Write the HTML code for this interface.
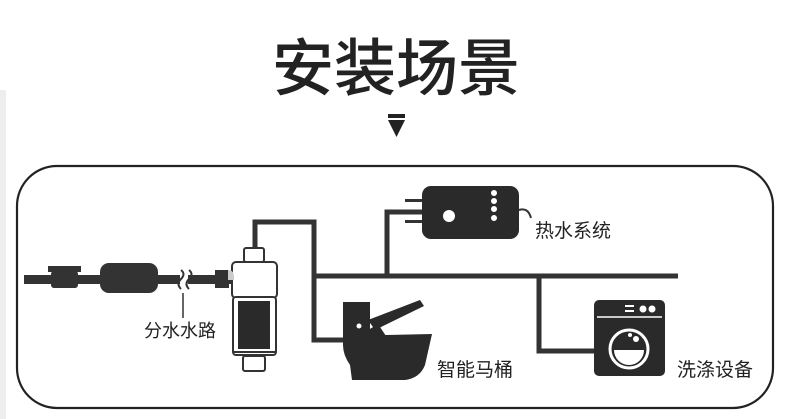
<!DOCTYPE html>
<html><head><meta charset="utf-8"><style>
html,body{margin:0;padding:0;background:#fff;}
svg{display:block;}
text{font-family:"Liberation Sans","Noto Sans CJK SC",sans-serif;fill:#222;}
</style></head><body>
<svg width="790" height="419" viewBox="0 0 790 419" xmlns="http://www.w3.org/2000/svg">
<rect x="0" y="0" width="790" height="419" fill="#fff"/>
<rect x="0" y="90" width="6" height="329" fill="#eee"/>
<text x="396" y="90" font-size="62" text-anchor="middle" font-weight="500" fill="#2a2a2a">安装场景</text>
<rect x="388" y="114" width="17" height="4" fill="#222"/>
<polygon points="388,120 405,120 396.5,137" fill="#222"/>
<rect x="17" y="166" width="756" height="242" rx="40" ry="40" fill="none" stroke="#222" stroke-width="2.2"/>
<g fill="none" stroke="#333" stroke-width="5">
<polyline points="255,250 255,222 314,222 314,340 350,340"/>
<line x1="314" y1="276" x2="678" y2="276"/>
<polyline points="387,276 387,212 422,212"/>
<polyline points="539,276 539,351 596,351"/>
</g>
<!-- left pipe -->
<g fill="#333">
<rect x="24" y="275" width="156" height="9"/>
<rect x="188" y="275" width="44" height="9"/>
<rect x="48" y="266" width="33" height="6"/>
<rect x="51" y="271" width="27" height="17" rx="3"/>
<rect x="100" y="263" width="58" height="30" rx="9"/>
<rect x="215" y="270" width="14" height="18"/>
</g>
<path d="M181,270 q5,4 0,9 q-5,5 0,10 M189,270 q5,4 0,9 q-5,5 0,10" stroke="#333" stroke-width="2" fill="none"/>
<line x1="183" y1="293" x2="183" y2="318" stroke="#333" stroke-width="1.5"/>
<text x="144" y="337" font-size="18">分水水路</text>
<!-- filter -->
<g stroke="#333" stroke-width="2" fill="#fff">
<rect x="244" y="248" width="20" height="14" rx="2"/>
<rect x="232" y="262" width="45" height="36" rx="4"/>
<rect x="233" y="297" width="43" height="58" rx="3"/>
<rect x="243" y="356" width="22" height="15" rx="2"/>
</g>
<rect x="238" y="301" width="32" height="48" fill="#2a2a2a"/>
<line x1="233" y1="352" x2="276" y2="352" stroke="#333" stroke-width="2"/>
<path d="M228,270 q7,0 6,10 l-6,0z" fill="#ccc"/>
<!-- heater -->
<rect x="422" y="186" width="97" height="53" rx="9" fill="#2a2a2a"/>
<rect x="405" y="199" width="17" height="3" fill="#333"/>
<rect x="405" y="220" width="17" height="3" fill="#333"/>
<circle cx="449" cy="216" r="6" fill="#fff"/>
<g fill="#fff"><circle cx="494" cy="193" r="3"/><circle cx="494" cy="201" r="3"/><circle cx="494" cy="209" r="3"/><circle cx="494" cy="218" r="3"/></g>
<path d="M519,210 q9,-3 12,8" stroke="#333" stroke-width="2" fill="none"/>
<text x="535" y="237" font-size="19">热水系统</text>
<!-- toilet -->
<rect x="343" y="302" width="27" height="38" fill="#2a2a2a"/>
<circle cx="359" cy="326" r="2.5" fill="#fff"/>
<polygon points="368,320 420,300 424,306 375,330" fill="#2a2a2a"/>
<polygon points="365,332 378,324 386,336 370,337" fill="#2a2a2a"/>
<path d="M343,336 L432,334 L425,365 Q420,378 405,380 L352,380 L350,365 Q343,355 343,345Z" fill="#2a2a2a"/>
<text x="437" y="376" font-size="19">智能马桶</text>
<!-- washer -->
<rect x="594" y="300" width="71" height="76" rx="5" fill="#2a2a2a"/>
<line x1="597" y1="317" x2="662" y2="317" stroke="#fff" stroke-width="1.5"/>
<circle cx="652" cy="309" r="3.5" fill="#fff"/><circle cx="643" cy="309" r="3.5" fill="#fff"/>
<rect x="625" y="305" width="9" height="2" fill="#fff"/><rect x="625" y="310" width="9" height="2" fill="#fff"/>
<circle cx="629" cy="349" r="19" fill="none" stroke="#fff" stroke-width="3"/>
<path d="M614,350 a15,15 0 0 0 30,0 Z" fill="#fff"/>
<circle cx="636" cy="339" r="3" fill="#fff"/><circle cx="630" cy="335" r="2" fill="#fff"/>
<text x="677" y="376" font-size="19">洗涤设备</text>
</svg>
</body></html>
